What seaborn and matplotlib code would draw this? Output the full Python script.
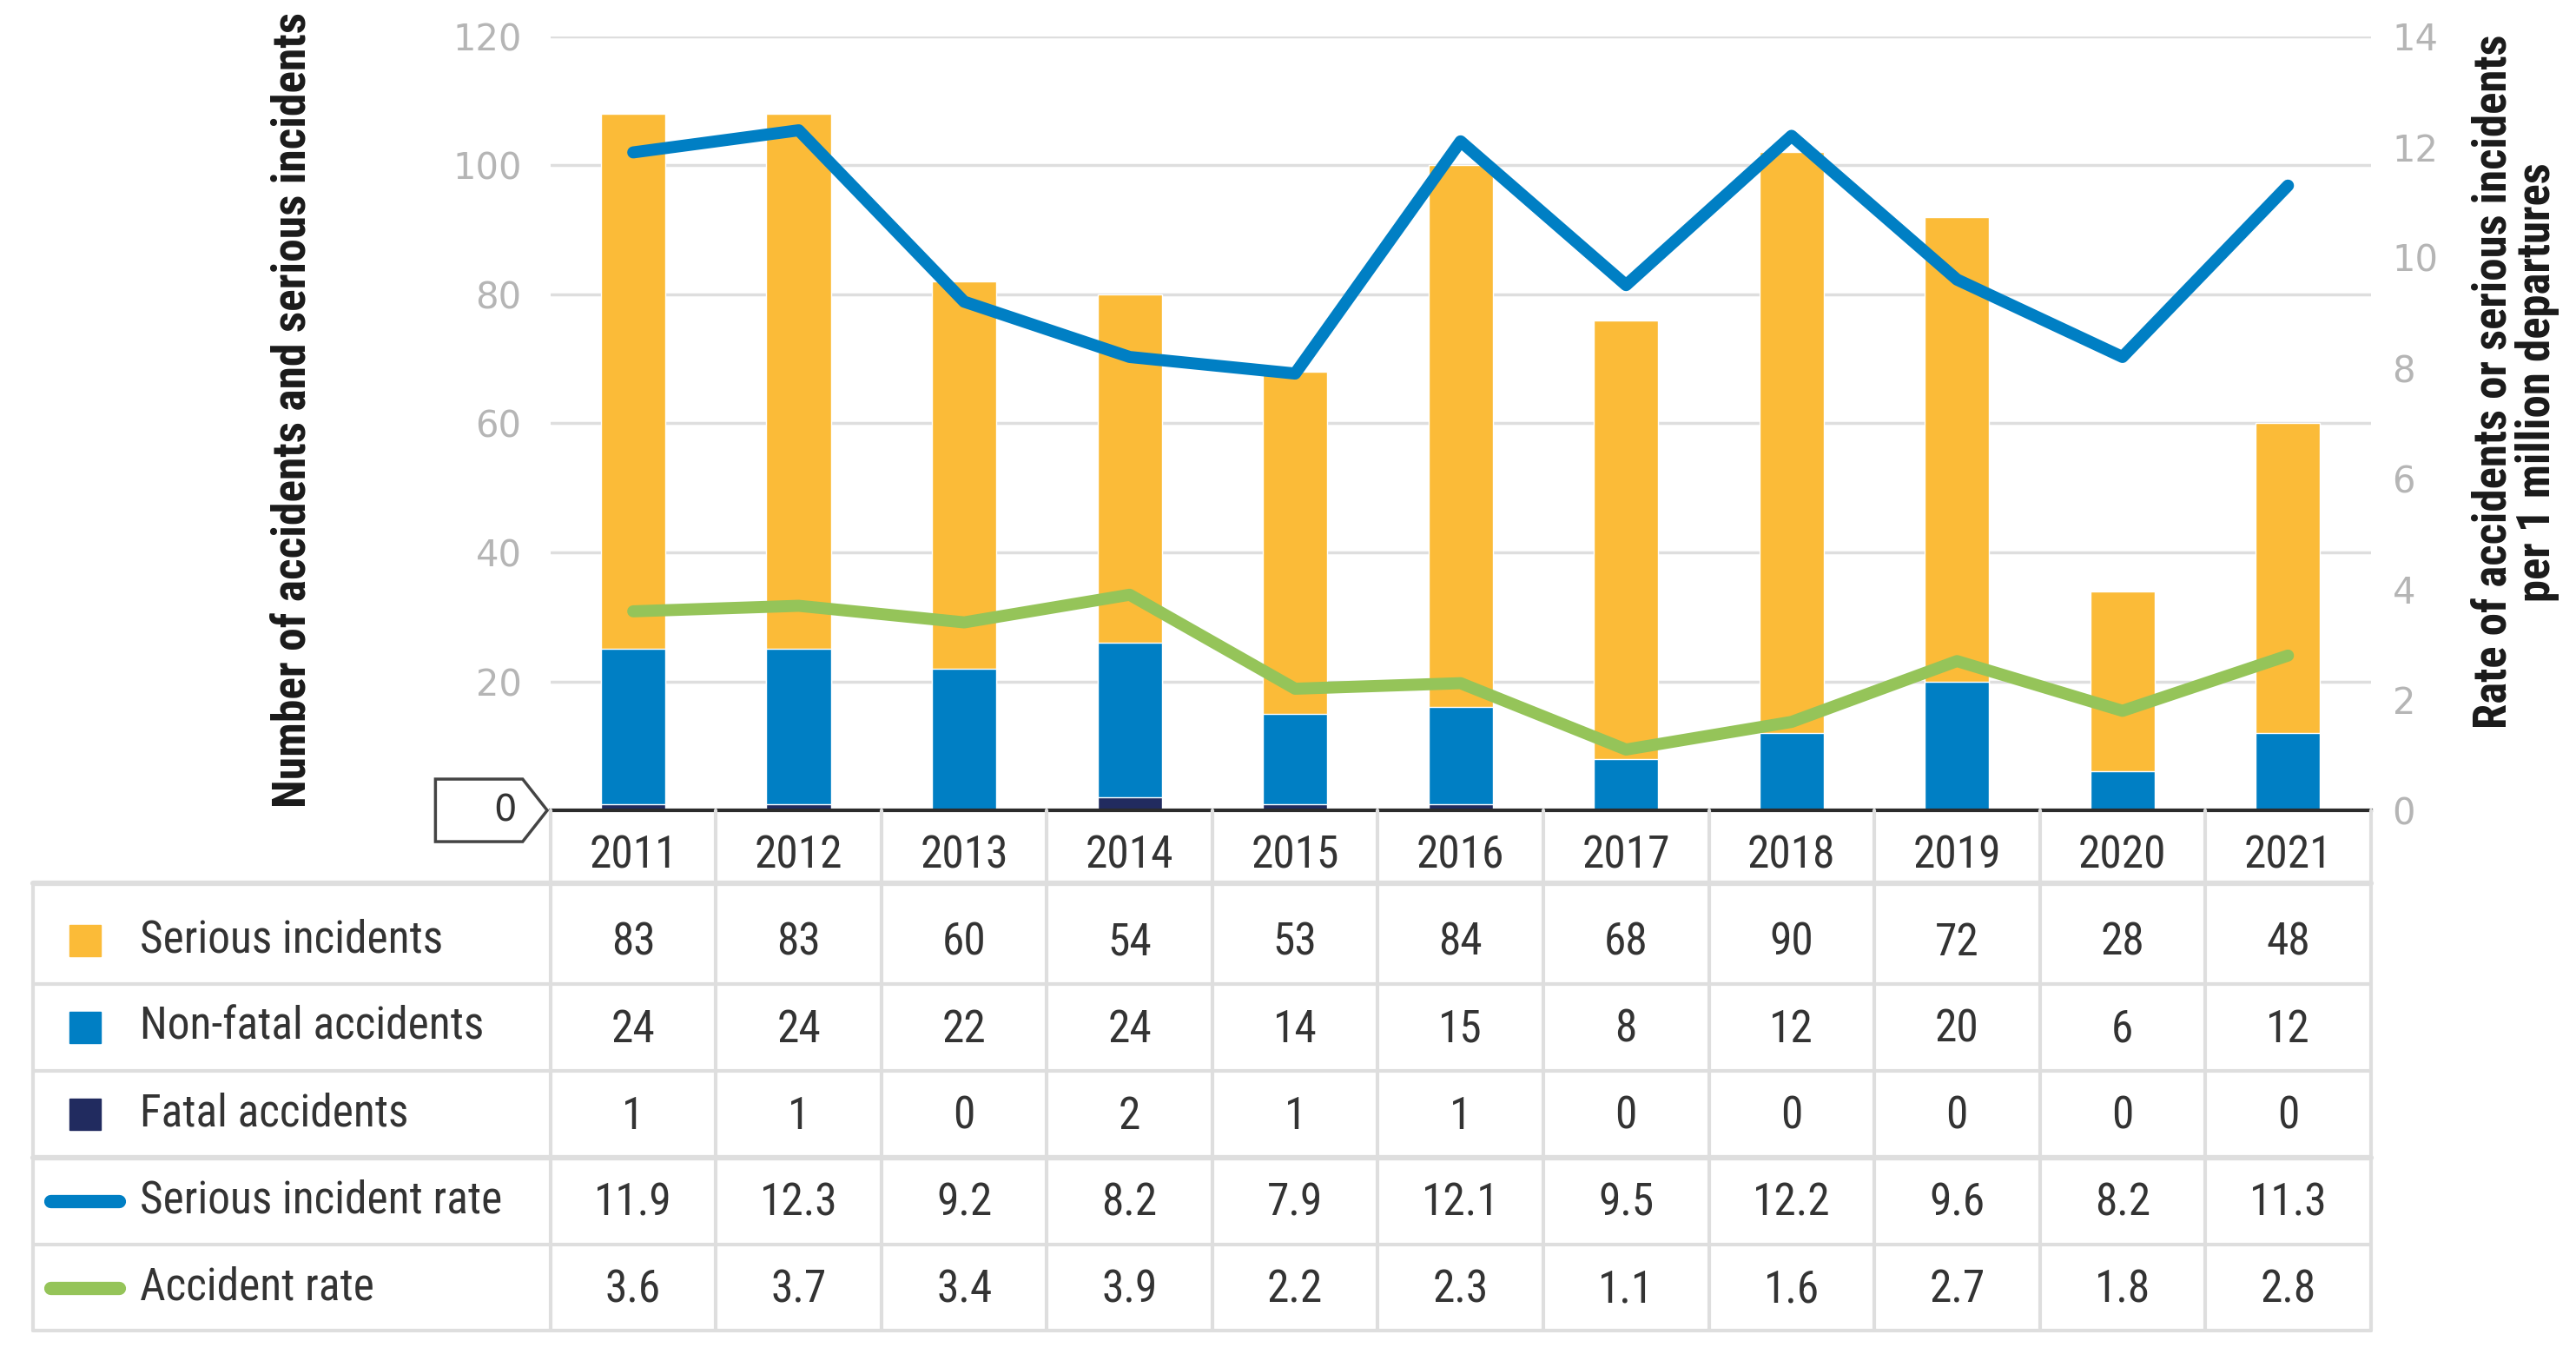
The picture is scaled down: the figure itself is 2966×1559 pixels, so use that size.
import numpy as np
import pandas as pd
import matplotlib.pyplot as plt
from matplotlib import font_manager
from matplotlib.font_manager import FontProperties
from matplotlib.patches import Polygon
import seaborn as sns

# ---- data ----
years = ['2011', '2012', '2013', '2014', '2015', '2016', '2017', '2018', '2019', '2020', '2021']
serious = [83, 83, 60, 54, 53, 84, 68, 90, 72, 28, 48]
non_fatal = [24, 24, 22, 24, 14, 15, 8, 12, 20, 6, 12]
fatal = [1, 1, 0, 2, 1, 1, 0, 0, 0, 0, 0]
serious_rate = [11.9, 12.3, 9.2, 8.2, 7.9, 12.1, 9.5, 12.2, 9.6, 8.2, 11.3]
accident_rate = [3.6, 3.7, 3.4, 3.9, 2.2, 2.3, 1.1, 1.6, 2.7, 1.8, 2.8]

YELLOW = '#fbbb38'
BLUE = '#007fc4'
NAVY = '#212b5f'
GREEN = '#95c459'
TICK_GREY = '#b5b5b5'
TXT = '#333333'
LINE_GREY = '#dedede'

sns.set_theme(style='white')
plt.rcParams['font.family'] = ['DejaVu Sans']


def find_narrow(bold):
    """look for an installed condensed / narrow face, return its file or None"""
    prefs = ['liberation sans narrow', 'roboto condensed', 'noto sans', 'open sans', 'dejavu sans']
    found = []
    for f in font_manager.fontManager.ttflist:
        fn = f.fname.lower()
        name = f.name.lower()
        st = str(f.stretch).lower()
        narrowish = ('narrow' in fn or 'condensed' in fn or 'narrow' in name or 'condensed' in name
                     or st in ('condensed', 'semi-condensed'))
        if not narrowish or 'semicondensed' in fn or 'extra' in fn or 'ultra' in fn:
            continue
        if f.style != 'normal' or 'italic' in fn:
            continue
        w = f.weight if isinstance(f.weight, int) else {'bold': 700, 'normal': 400, 'regular': 400}.get(str(f.weight), 500)
        if bold and w != 700:
            continue
        if not bold and w != 400:
            continue
        rank = next((i for i, p in enumerate(prefs) if p in name), len(prefs))
        found.append((rank, f.fname))
    found.sort()
    return found[0][1] if found else None


reg_file = find_narrow(False)
bold_file = find_narrow(True)


def fp(size, bold=False):
    path = bold_file if bold else reg_file
    if path:
        return FontProperties(fname=path, size=size)
    return FontProperties(family='DejaVu Sans', size=size * 0.8, weight='bold' if bold else 'normal')


df = pd.DataFrame({'year': years, 'serious': serious, 'non_fatal': non_fatal, 'fatal': fatal})
df['accidents'] = df['non_fatal'] + df['fatal']
df['total'] = df['serious'] + df['accidents']
pos = np.arange(len(years))

fig = plt.figure(figsize=(29.66, 15.59), dpi=100)
ax = fig.add_axes([0.2137, 0.4015, 0.7066, 0.5717])

# stacked bars (drawn as overlapping cumulative totals)
sns.barplot(data=df, x='year', y='total', color=YELLOW, saturation=1, width=0.39, errorbar=None, ax=ax)
sns.barplot(data=df, x='year', y='accidents', color=BLUE, saturation=1, width=0.39, errorbar=None, ax=ax)
sns.barplot(data=df, x='year', y='fatal', color=NAVY, saturation=1, width=0.39, errorbar=None, ax=ax)

ax.set_ylim(0, 120)
ax.set_yticks(range(0, 121, 20))
ax.set_yticklabels([''] + [str(v) for v in range(20, 121, 20)])
ax.set_xticks([])
ax.set_xlabel('')
ax.set_ylabel('')
ax.yaxis.grid(True, color=LINE_GREY, lw=2.5)
ax.set_axisbelow(True)
ax.tick_params(axis='y', length=0, pad=24, labelsize=30, labelcolor=TICK_GREY)
for s in ax.spines.values():
    s.set_visible(False)
ax.spines['bottom'].set_visible(True)
ax.spines['bottom'].set_color('#2b2b2b')
ax.spines['bottom'].set_linewidth(3)

# rate lines on the right axis
ax2 = ax.twinx()
sns.lineplot(x=pos, y=serious_rate, ax=ax2, color=BLUE, lw=10, solid_capstyle='round', legend=False)
sns.lineplot(x=pos, y=accident_rate, ax=ax2, color=GREEN, lw=10, solid_capstyle='round', legend=False)
ax2.set_ylim(0, 14)
ax2.set_yticks(range(0, 15, 2))
ax2.set_ylabel('')
ax2.grid(False)
ax2.tick_params(axis='y', length=0, pad=18, labelsize=30, labelcolor=TICK_GREY)
for s in ax2.spines.values():
    s.set_visible(False)
ax.set_xlim(-0.5, len(years) - 0.5)
ax2.set_xlim(-0.5, len(years) - 0.5)

# "0" marker box on the left axis
box = Polygon([(-0.0632, -0.0404), (-0.0153, -0.0404), (-0.0018, 0), (-0.0153, 0.0404), (-0.0632, 0.0404)],
              closed=True, transform=ax.transAxes, clip_on=False, fc='white', ec='#444444', lw=2.5)
ax.add_patch(box)
ax.text(-0.025, 0, '0', transform=ax.transAxes, ha='center', va='center', fontsize=30, color=TXT)

# axis titles
fig.text(0.1135, 0.697, 'Number of accidents and serious incidents', rotation=90, ha='center',
         va='center', fontproperties=fp(38.5, True), color='#1a1a1a')
fig.text(0.9765, 0.718, 'Rate of accidents or serious incidents\nper 1 million departures', rotation=90,
         ha='center', va='center', fontproperties=fp(38, True), color='#1a1a1a',
         multialignment='center', linespacing=1.0)

# ---- data table ----
x_left = -0.5 - (0.2137 - 0.01276) * len(years) / 0.7066
tab = fig.add_axes([0.01276, 0.017, 0.9203 - 0.01276, 0.4015 - 0.017])
tab.set_xlim(x_left, len(years) - 0.5)
tab.set_ylim(6, 0)
tab.axis('off')

row_edges = [0.84, 2, 3, 4, 5, 6]
for y in row_edges:
    lw = 4.5 if y in (0.84, 4) else 3
    tab.plot([x_left, len(years) - 0.5], [y, y], color=LINE_GREY, lw=lw, clip_on=False)
tab.plot([x_left, x_left], [0.84, 6], color=LINE_GREY, lw=3, clip_on=False)
for k in range(len(years) + 1):
    tab.plot([k - 0.5, k - 0.5], [0, 6], color=LINE_GREY, lw=3, clip_on=False)

for i, yr in enumerate(years):
    tab.text(i, 0.52, yr, ha='center', va='center', fontproperties=fp(37), color=TXT)

rows = [
    ('Serious incidents', serious, 's', YELLOW, '{}'),
    ('Non-fatal accidents', non_fatal, 's', BLUE, '{}'),
    ('Fatal accidents', fatal, 's', NAVY, '{}'),
    ('Serious incident rate', serious_rate, '-', BLUE, '{:.1f}'),
    ('Accident rate', accident_rate, '-', GREEN, '{:.1f}'),
]
for r, (label, vals, kind, col, fmt) in enumerate(rows):
    yc = r + 1.5
    if kind == 's':
        tab.plot([-3.31], [yc], marker='s', ms=26, color=col, mec=col, ls='none')
    else:
        tab.plot([-3.52, -3.11], [yc, yc], color=col, lw=11, solid_capstyle='round')
    tab.text(-2.98, yc, label, ha='left', va='center', fontproperties=fp(37), color=TXT)
    for i, v in enumerate(vals):
        tab.text(i, yc + 0.03, fmt.format(v), ha='center', va='center', fontproperties=fp(37), color=TXT)

fig.savefig('out.png', dpi=100)
